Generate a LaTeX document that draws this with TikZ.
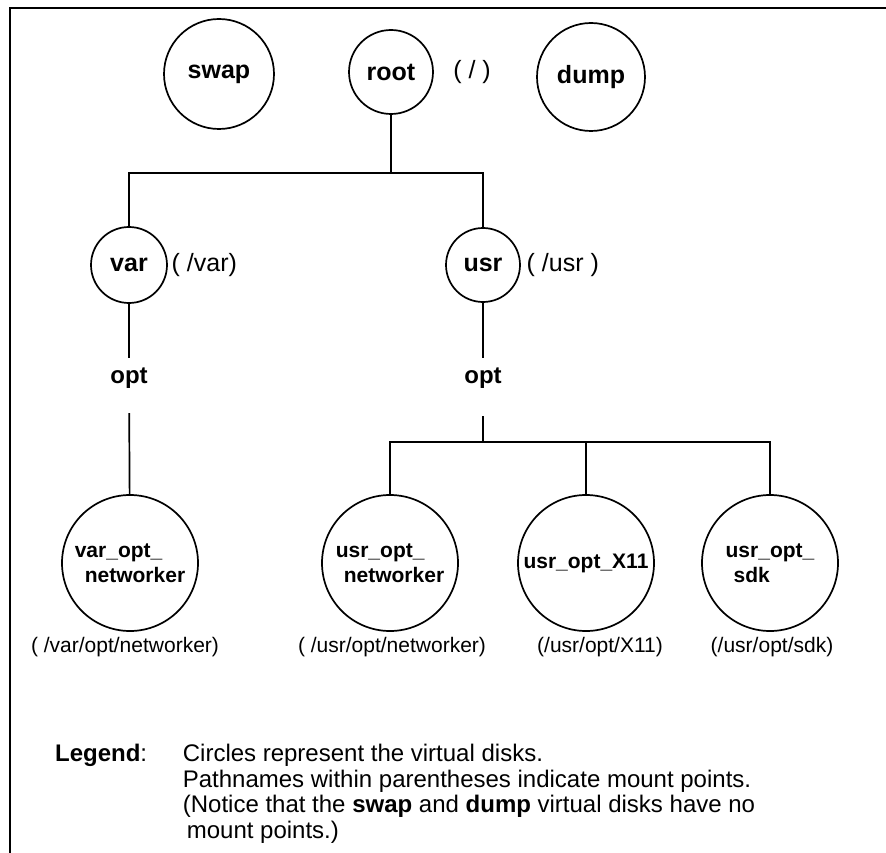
\documentclass[tikz,border=0pt]{standalone}
\usepackage{fontspec}
\setmainfont{Liberation Sans}
\usetikzlibrary{positioning}
\tikzset{
	disk/.style={draw,circle,inner sep=0pt,font=\fontsize{25}{27}\selectfont\bfseries},
	subdisk/.style={disk,minimum size=136pt,align=left,font=\fontsize{21}{25}\selectfont\bfseries},
	mount/.style={inner sep=0pt,font=\fontsize{25}{27}\selectfont},
	submount/.style={inner sep=0pt,font=\fontsize{21}{24}\selectfont},
	dirname/.style={inner sep=0pt,font=\fontsize{24}{26}\selectfont\bfseries},
	legtext/.style={inner sep=0pt,align=left,font={\fontsize{24}{25.5}\selectfont\lineskiplimit=-20pt\relax}}
}
\begin{document}
\begin{tikzpicture}[x=1pt,y=-1pt,line width=1.7pt]
	\useasboundingbox (0,0) rectangle (886,853);
	\draw (10,853) -- (10,8) -- (886,8);
	\node[disk,minimum size=110pt] (swap) at (219,74) {swap};
	\node[disk,minimum size=84pt] (root) at (391,72) {root};
	\node[mount] (rootmnt) at (472,72) {( / )};
	\node[disk,minimum size=108pt] (dump) at (591,77) {dump};
	\node[disk,minimum size=76pt] (var) at (129,265) {var};
	\node[mount,right=3pt of var] (varmnt) {( /var)};
	\node[disk,minimum size=74pt] (usr) at (483,265) {usr};
	\node[mount,right=5pt of usr] (usrmnt) {( /usr )};
	\node[dirname] (varopt) at (129,378) {opt};
	\node[dirname] (usropt) at (483,378) {opt};
	\node[subdisk] (varnet) at (130,563) {var\_opt\_\\\hspace*{10pt}networker};
	\node[subdisk] (usrnet) at (390,563) {usr\_opt\_\\\hspace*{8pt}networker};
	\node[subdisk] (usrx) at (586,563) {usr\_opt\_X11};
	\node[subdisk] (usrsdk) at (770,563) {usr\_opt\_\\\hspace*{8pt}sdk};
	\node[submount] (varnetmnt) at (125,647) {( /var/opt/networker)};
	\node[submount] (usrnetmnt) at (392,647) {( /usr/opt/networker)};
	\node[submount] (usrxmnt) at (600,647) {(/usr/opt/X11)};
	\node[submount] (usrsdkmnt) at (772,647) {(/usr/opt/sdk)};
	\coordinate (rootj) at (391,173);
	\coordinate (usrj) at (483,442);
	\draw (root) -- (rootj);
	\draw (var) |- (rootj) -| (usr);
	\draw[shorten >=9pt] (var) -- (varopt);
	\draw[shorten <=24pt] (varopt) -- (varnet);
	\draw[shorten >=9pt] (usr) -- (usropt);
	\draw[shorten <=27pt] (usropt) -- (usrj);
	\draw (usrnet) |- (usrj) -| (usrsdk);
	\draw (usrx) -- (usrx |- usrj);
	\node[legtext,anchor=base east] (legend) at (148,761) {\textbf{Legend}:};
	\node[legtext,anchor=north west] (legtxt) at (182,743.5) {Circles represent the virtual disks.\\Pathnames within parentheses indicate mount points.\\(Notice that the \textbf{swap} and \textbf{dump} virtual disks have no\\\hspace*{4pt}mount points.)};
\end{tikzpicture}
\end{document}
